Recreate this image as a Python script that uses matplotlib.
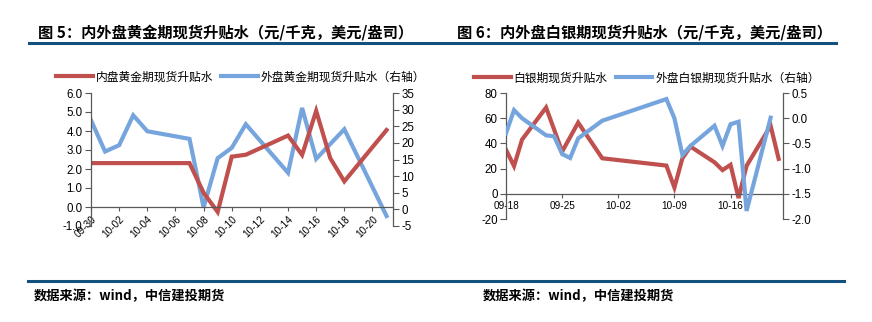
import matplotlib
matplotlib.use("Agg")
import matplotlib.pyplot as plt
import pandas as pd
from matplotlib.lines import Line2D

plt.rcParams['font.family'] = ['Noto Sans CJK SC', 'DejaVu Sans']

# 图5 数据 (2019)
gold_cn_dates = ['09-30', '10-07', '10-08', '10-09', '10-10', '10-11', '10-14',
                 '10-15', '10-16', '10-17', '10-18', '10-21']
gold_cn_vals = [2.31, 2.31, 0.75, -0.26, 2.65, 2.75, 3.76, 2.74, 5.06, 2.57, 1.35, 4.05]
gold_ext_dates = ['09-30', '10-01', '10-02', '10-03', '10-04', '10-07', '10-08', '10-09',
                  '10-10', '10-11', '10-14', '10-15', '10-16', '10-18', '10-21']
gold_ext_vals = [26.8, 17.4, 19.3, 28.3, 23.5, 21.2, 0.6, 15.4, 18.5, 25.6, 11.0, 30.5,
                 15.2, 24.1, -2.0]
gold_ticks = ['09-30', '10-02', '10-04', '10-06', '10-08', '10-10', '10-12', '10-14',
              '10-16', '10-18', '10-20']

# 图6 数据
silver_cn_dates = ['09-18', '09-19', '09-20', '09-23', '09-25', '09-27', '09-30', '10-08',
                   '10-09', '10-10', '10-11', '10-14', '10-15', '10-16', '10-17', '10-18',
                   '10-21', '10-22']
silver_cn_vals = [35, 22, 43, 68.5, 33.5, 56.5, 28.2, 22.4, 5, 28.2, 37.5, 25, 18.8, 23,
                  -3.4, 22.2, 54, 27.7]
silver_ext_dates = ['09-18', '09-19', '09-20', '09-23', '09-24', '09-25', '09-26', '09-27',
                    '09-30', '10-08', '10-09', '10-10', '10-11', '10-14', '10-15', '10-16',
                    '10-17', '10-18', '10-21']
silver_ext_vals = [-0.30, 0.16, 0.0, -0.34, -0.36, -0.71, -0.79, -0.40, -0.05, 0.38, 0.0,
                   -0.73, -0.55, -0.15, -0.55, -0.12, -0.07, -1.84, 0.01]
silver_ticks = ['09-18', '09-25', '10-02', '10-09', '10-16']

RED = '#C0504D'
BLUE = '#76A5DE'
NAVY = '#12507E'
W, H = 872, 322


def d(lst):
    return pd.to_datetime(['2019-' + s for s in lst])


def style_axes(ax, ax2):
    for a in (ax, ax2):
        a.spines['top'].set_visible(False)
        for s in ('left', 'right', 'bottom'):
            a.spines[s].set_color('#595959')
            a.spines[s].set_linewidth(0.9)
        a.tick_params(axis='y', length=4, width=0.8, color='#595959',
                      labelsize=8.3, pad=2)
    ax2.spines['bottom'].set_visible(False)
    ax.spines['right'].set_visible(False)
    ax2.spines['left'].set_visible(False)
    ax.spines['bottom'].set_position(('data', 0))
    ax.tick_params(axis='x', length=3, width=0.8, color='#595959', labelsize=7.2, pad=2)


fig = plt.figure(figsize=(W / 100, H / 100), dpi=100)

# ---------- 图5 ----------
ax = fig.add_axes([91 / W, 1 - 226 / H, (393 - 91) / W, (226 - 93) / H])
ax2 = ax.twinx()
l1, = ax.plot(d(gold_cn_dates), gold_cn_vals, color=RED, lw=3, solid_joinstyle='miter')
l2, = ax2.plot(d(gold_ext_dates), gold_ext_vals, color=BLUE, lw=3, solid_joinstyle='miter')
ax.set_zorder(ax2.get_zorder() + 1)
ax.patch.set_visible(False)
style_axes(ax, ax2)
ax.set_ylim(-1, 6)
ax.set_yticks([-1, 0, 1, 2, 3, 4, 5, 6])
ax.set_yticklabels([f'{v:.1f}' for v in ax.get_yticks()], fontfamily='Liberation Sans')
ax2.set_ylim(-5, 35)
ax2.set_yticks(range(-5, 36, 5))
ax2.set_yticklabels([str(v) for v in range(-5, 36, 5)], fontfamily='Liberation Sans')
ax.set_xlim(d(['09-30'])[0], d(['10-21'])[0] + pd.Timedelta(hours=11))
ax.set_xticks(d(gold_ticks))
ax.set_xticklabels(gold_ticks, fontfamily='Liberation Sans')
for lab in ax.get_xticklabels():
    lab.set_rotation(45)
    lab.set_rotation_mode('anchor')
    lab.set_horizontalalignment('right')
    lab.set_verticalalignment('top')
ax.legend(handles=[l1, l2], labels=['内盘黄金期现货升贴水', '外盘黄金期现货升贴水（右轴）'],
          loc='center left', bbox_to_anchor=(56 / W, 1 - 77 / H),
          bbox_transform=fig.transFigure, ncol=2, frameon=False, fontsize=8.5,
          handlelength=3.1, handletextpad=0.25, columnspacing=0.7, borderpad=0,
          borderaxespad=0)

# ---------- 图6 ----------
bx = fig.add_axes([506 / W, 1 - 219 / H, (783 - 506) / W, (219 - 93) / H])
bx2 = bx.twinx()
m1, = bx.plot(d(silver_cn_dates), silver_cn_vals, color=RED, lw=3, solid_joinstyle='miter')
m2, = bx2.plot(d(silver_ext_dates), silver_ext_vals, color=BLUE, lw=3, solid_joinstyle='miter')
style_axes(bx, bx2)
bx.set_ylim(-20, 80)
bx.set_yticks(range(-20, 81, 20))
bx.set_yticklabels([str(v) for v in range(-20, 81, 20)], fontfamily='Liberation Sans')
bx2.set_ylim(-2.0, 0.5)
bx2.set_yticks([-2.0, -1.5, -1.0, -0.5, 0.0, 0.5])
bx2.set_yticklabels([f'{v:.1f}' for v in bx2.get_yticks()], fontfamily='Liberation Sans')
bx.set_xlim(d(['09-18'])[0], d(['10-22'])[0] + pd.Timedelta(hours=13))
bx.set_xticks(d(silver_ticks))
bx.set_xticklabels(silver_ticks, fontfamily='Liberation Sans')
bx.legend(handles=[m1, m2], labels=['白银期现货升贴水', '外盘白银期现货升贴水（右轴）'],
          loc='center left', bbox_to_anchor=(474 / W, 1 - 78 / H),
          bbox_transform=fig.transFigure, ncol=2, frameon=False, fontsize=8.5,
          handlelength=3.1, handletextpad=0.25, columnspacing=0.7, borderpad=0,
          borderaxespad=0)

# ---------- 标题与来源 ----------
fig.text(38 / W, 1 - 32 / H, '图 5：内外盘黄金期现货升贴水（元/千克，美元/盎司）',
         fontsize=11, fontweight='bold', va='center', ha='left')
fig.text(457 / W, 1 - 32 / H, '图 6：内外盘白银期现货升贴水（元/千克，美元/盎司）',
         fontsize=11, fontweight='bold', va='center', ha='left')
fig.add_artist(Line2D([29 / W, 836 / W], [1 - 43 / H, 1 - 43 / H], color=NAVY, lw=2.2,
                      transform=fig.transFigure))
fig.add_artist(Line2D([28 / W, 844 / W], [1 - 281 / H, 1 - 281 / H], color=NAVY, lw=2.2,
                      transform=fig.transFigure))
fig.text(34 / W, 1 - 296 / H, '数据来源：wind，中信建投期货', fontsize=9.5,
         fontweight='bold', style='italic', va='center', ha='left')
fig.text(483 / W, 1 - 296 / H, '数据来源：wind，中信建投期货', fontsize=9.5,
         fontweight='bold', style='italic', va='center', ha='left')

fig.savefig('out.png', dpi=100, facecolor='white')
